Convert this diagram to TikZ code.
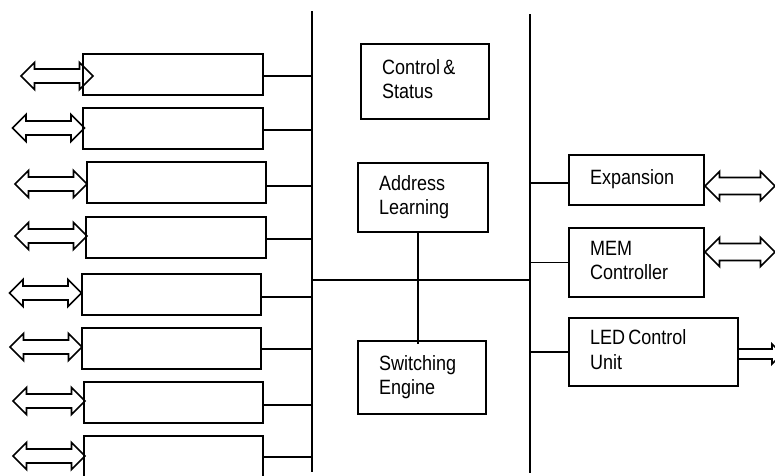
\documentclass[tikz,border=0pt]{standalone}
\usepackage{fontspec}
\setmainfont{Liberation Sans}
\newcommand\boxtxt[1]{\scalebox{1}[1.15]{\fontsize{18}{21.7}\selectfont\begin{tabular}{@{}l@{}}#1\end{tabular}}}
% \dblarrow{center}{half length}{half shaft}{half head}
\newcommand\dblarrow[4]{%
  \draw[arr,shift={(#1)}] (-#2,0) -- (-#2+#4,-#4) -- (-#2+#4,-#3) -- (#2-#4,-#3) -- (#2-#4,-#4)
   -- (#2,0) -- (#2-#4,#4) -- (#2-#4,#3) -- (-#2+#4,#3) -- (-#2+#4,#4) -- cycle;}
\begin{document}
\begin{tikzpicture}[x=1pt,y=-1pt,
  blk/.style={draw,line width=1.8pt,fill=white,inner sep=0pt},
  tbox/.style={draw,line width=1.8pt,fill=white,inner xsep=21pt,inner ysep=0pt,align=left},
  arr/.style={draw,line width=1.7pt,line join=miter},
  bus/.style={line width=2.4pt},
  wire/.style={line width=1.8pt}]
\useasboundingbox (0,0) rectangle (775,475);
\clip (0,0) rectangle (775,475);
% buses
\coordinate (lbtop) at (312,11);
\coordinate (lbbot) at (312,472);
\coordinate (rbtop) at (530,14);
\coordinate (rbbot) at (530,473);
\draw[bus] (lbtop) -- (lbbot);
\draw[bus] (rbtop) -- (rbbot);
\coordinate (hl) at (312,280);
\coordinate (hr) at (530,280);
\draw[wire] (hl) -- (hr);
% left boxes
\node[blk,minimum width=180pt,minimum height=41pt] (b1) at (173,74.5) {};
\node[blk,minimum width=180pt,minimum height=41pt] (b2) at (173,128.5) {};
\node[blk,minimum width=179pt,minimum height=41pt] (b3) at (176.5,182.5) {};
\node[blk,minimum width=180pt,minimum height=41pt] (b4) at (176,237.5) {};
\node[blk,minimum width=179pt,minimum height=41pt] (b5) at (171.5,294.5) {};
\node[blk,minimum width=179pt,minimum height=41pt] (b6) at (171.5,348.5) {};
\node[blk,minimum width=179pt,minimum height=41pt] (b7) at (173.5,402.5) {};
\node[blk,minimum width=179pt,minimum height=49pt] (b8) at (173.5,460.5) {};
\foreach \b/\d in {b1/1.5,b2/1.5,b3/3.5,b4/1.5,b5/2.5,b6/0.5,b7/2.5}{
  \draw[wire] ([yshift=-\d pt]\b.east) -- ([yshift=-\d pt]\b.east -| lbtop);
}
\coordinate (b8c) at (b8.east |- 0,457);
\draw[wire] (b8c) -- (b8c -| lbtop);
% left arrows
\coordinate (a1) at (57,76);
\coordinate (a2) at (48.5,128);
\coordinate (a3) at (51,184);
\coordinate (a4) at (51,236);
\coordinate (a5) at (45.5,293);
\coordinate (a6) at (46,347);
\coordinate (a7) at (49,401);
\coordinate (a8) at (49,456);
\foreach \a in {a1,a2,a3,a4,a5,a6,a7,a8}{\dblarrow{\a}{36}{7}{13.5}}
% middle blocks
\node[tbox,minimum height=75pt,text width=86pt] (cs) at (425,81.5) {\boxtxt{Control \&\\Status}};
\node[tbox,minimum height=69pt,text width=88pt] (al) at (423,197.5) {\boxtxt{Address\\Learning}};
\node[tbox,minimum height=73pt,text width=86pt] (se) at (422,377.5) {\boxtxt{Switching\\Engine}};
\draw[wire] ([xshift=-5pt]al.south) -- ([xshift=-4pt,yshift=-4pt]se.north);
% right side
\coordinate (ea) at (740,186);
\coordinate (ma) at (740,252);
\coordinate (la) at (741,354);
\dblarrow{ea}{35}{8.5}{14.5}
\dblarrow{ma}{35}{8.5}{14.5}
\dblarrow{la}{41}{5}{10}
\node[tbox,minimum height=50pt,text width=93pt] (ex) at (636.5,180) {\boxtxt{Expansion}};
\node[tbox,minimum height=69pt,text width=93pt] (mem) at (636.5,262.5) {\boxtxt{MEM\\Controller}};
\node[tbox,minimum height=68pt,text width=127pt] (led) at (653.5,352) {\boxtxt{LED Control\\Unit}};
\coordinate (exc) at (ex.west |- 0,183);
\draw[wire] (exc) -- (exc -| rbtop);
\draw[wire] (mem.west) -- (mem.west -| rbtop);
\draw[wire] (led.west) -- (led.west -| rbtop);
\end{tikzpicture}
\end{document}
